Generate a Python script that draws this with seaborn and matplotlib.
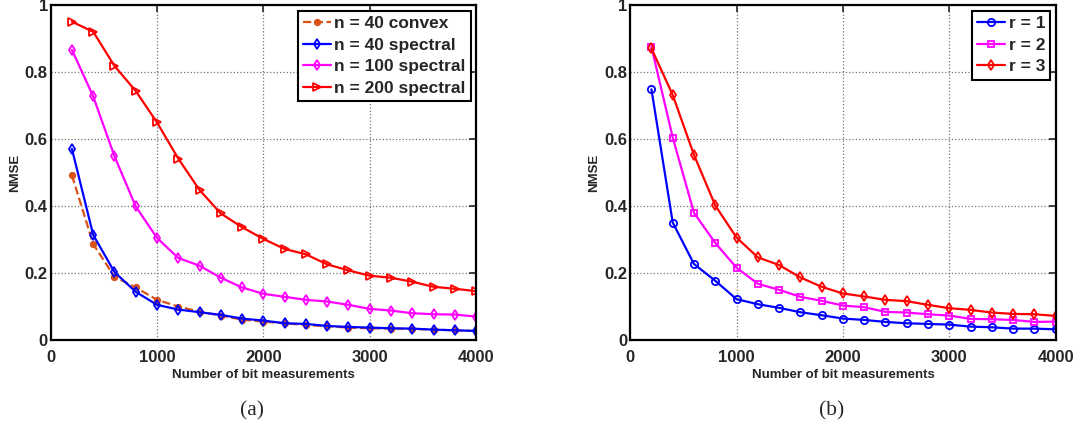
import numpy as np
import pandas as pd
import seaborn as sns
import matplotlib
matplotlib.use('Agg')
import matplotlib.pyplot as plt

sns.set_style('white')
plt.rcParams['font.family'] = ['Liberation Sans', 'DejaVu Sans']

# number of bit measurements
m = [200, 400, 600, 800, 1000, 1200, 1400, 1600, 1800, 2000,
     2200, 2400, 2600, 2800, 3000, 3200, 3400, 3600, 3800, 4000]

# (a)
n40_convex = [0.492, 0.287, 0.189, 0.157, 0.120, 0.100, 0.085, 0.073, 0.061, 0.055,
              0.050, 0.045, 0.041, 0.037, 0.035, 0.034, 0.033, 0.031, 0.029, 0.027]
n40_spectral = [0.571, 0.314, 0.203, 0.144, 0.105, 0.091, 0.083, 0.075, 0.064, 0.058,
                0.050, 0.048, 0.042, 0.039, 0.037, 0.035, 0.034, 0.031, 0.029, 0.027]
n100_spectral = [0.867, 0.728, 0.549, 0.399, 0.305, 0.245, 0.222, 0.186, 0.157, 0.138,
                 0.129, 0.120, 0.115, 0.105, 0.093, 0.088, 0.080, 0.077, 0.076, 0.070]
n200_spectral = [0.951, 0.921, 0.819, 0.744, 0.650, 0.542, 0.448, 0.378, 0.337, 0.302,
                 0.272, 0.256, 0.226, 0.208, 0.192, 0.186, 0.174, 0.159, 0.153, 0.146]

# (b)
r1 = [0.749, 0.351, 0.227, 0.177, 0.122, 0.107, 0.096, 0.083, 0.074, 0.064,
      0.060, 0.054, 0.050, 0.048, 0.046, 0.040, 0.038, 0.034, 0.034, 0.032]
r2 = [0.876, 0.605, 0.380, 0.290, 0.216, 0.168, 0.150, 0.129, 0.117, 0.103,
      0.098, 0.084, 0.082, 0.077, 0.073, 0.063, 0.062, 0.060, 0.054, 0.055]
r3 = [0.871, 0.732, 0.553, 0.402, 0.306, 0.247, 0.224, 0.187, 0.159, 0.139,
      0.130, 0.120, 0.116, 0.105, 0.095, 0.090, 0.082, 0.078, 0.077, 0.072]

orange = (0.85, 0.325, 0.098)

fig = plt.figure(figsize=(10.8, 4.28), dpi=100)
ax1 = fig.add_axes([0.0469, 0.2056, 0.3939, 0.782])
ax2 = fig.add_axes([0.5835, 0.2056, 0.3939, 0.782])

open_kw = dict(markerfacecolor='none', markeredgewidth=1.3, lw=1.6)

sns.lineplot(x=m, y=n40_convex, ax=ax1, color=orange, linestyle='--', marker='o',
             markersize=4.5, markeredgecolor=orange, lw=1.6, label='n = 40 convex')
sns.lineplot(x=m, y=n40_spectral, ax=ax1, color='blue', marker='d', markersize=5.5,
             markeredgecolor='blue', label='n = 40 spectral', **open_kw)
sns.lineplot(x=m, y=n100_spectral, ax=ax1, color='magenta', marker='d', markersize=5.5,
             markeredgecolor='magenta', label='n = 100 spectral', **open_kw)
sns.lineplot(x=m, y=n200_spectral, ax=ax1, color='red', marker='>', markersize=6,
             markeredgecolor='red', label='n = 200 spectral', **open_kw)

sns.lineplot(x=m, y=r1, ax=ax2, color='blue', marker='o', markersize=5.2,
             markeredgecolor='blue', label='r = 1', **open_kw)
sns.lineplot(x=m, y=r2, ax=ax2, color='magenta', marker='s', markersize=4.6,
             markeredgecolor='magenta', label='r = 2', **open_kw)
sns.lineplot(x=m, y=r3, ax=ax2, color='red', marker='d', markersize=5.5,
             markeredgecolor='red', label='r = 3', **open_kw)

for ax in (ax1, ax2):
    ax.set_xlim(0, 4000)
    ax.set_ylim(0, 1)
    ax.set_xticks([0, 1000, 2000, 3000, 4000])
    ax.set_yticks([0, 0.2, 0.4, 0.6, 0.8, 1])
    ax.set_yticklabels(['0', '0.2', '0.4', '0.6', '0.8', '1'])
    ax.tick_params(direction='in', top=True, right=True, length=5, width=1.2,
                   labelsize=12)
    ax.tick_params(axis='x', pad=7)
    ax.tick_params(axis='y', pad=2)
    for lab in ax.get_xticklabels() + ax.get_yticklabels():
        lab.set_fontweight('bold')
    ax.grid(True, linestyle=':', color='0.45', linewidth=0.9)
    for s in ax.spines.values():
        s.set_color('black')
        s.set_linewidth(1.6)
    ax.set_xlabel('Number of bit measurements', fontsize=9.5, fontweight='bold', labelpad=3)
    ax.set_ylabel('NMSE', fontsize=9.5, fontweight='bold', labelpad=3)
    leg = ax.legend(loc='upper right', prop={'weight': 'bold', 'size': 12.5},
                    frameon=True, fancybox=False, edgecolor='black', framealpha=1,
                    handlelength=1.6, handletextpad=0.2, borderpad=0.3,
                    labelspacing=0.38, borderaxespad=0.3)
    leg.get_frame().set_linewidth(1.5)

fig.text(252 / 1080, 1 - 411 / 428, '(a)', ha='center', va='center', fontsize=15.5,
         family=['Liberation Serif', 'DejaVu Serif'])
fig.text(832 / 1080, 1 - 411 / 428, '(b)', ha='center', va='center', fontsize=15.5,
         family=['Liberation Serif', 'DejaVu Serif'])

fig.savefig('out.png', dpi=100)
